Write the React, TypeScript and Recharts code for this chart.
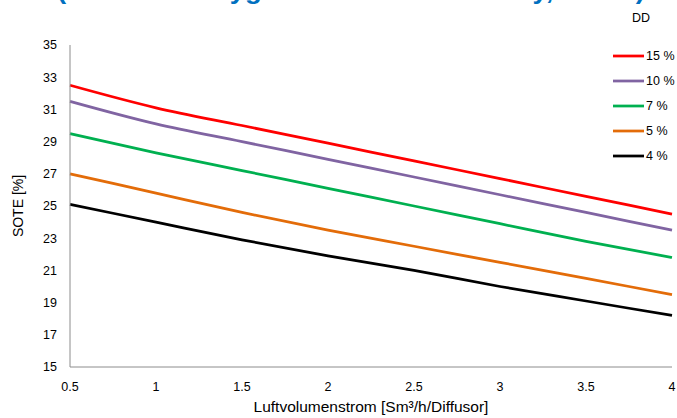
import React from 'react';
import { LineChart, Line, XAxis, YAxis, Legend } from 'recharts';

const airflow = [0.5, 1, 1.5, 2, 2.5, 3, 3.5, 4];
const dd15 = [32.5, 31.1, 30.0, 28.9, 27.8, 26.7, 25.6, 24.5];
const dd10 = [31.5, 30.1, 29.0, 27.9, 26.8, 25.7, 24.6, 23.5];
const dd7 = [29.5, 28.3, 27.2, 26.1, 25.0, 23.9, 22.8, 21.8];
const dd5 = [27.0, 25.8, 24.6, 23.5, 22.5, 21.5, 20.5, 19.5];
const dd4 = [25.1, 24.0, 22.9, 21.9, 21.0, 20.0, 19.1, 18.2];
const xTicks = [0.5, 1, 1.5, 2, 2.5, 3, 3.5, 4];
const yTicks = [15, 17, 19, 21, 23, 25, 27, 29, 31, 33, 35];

const seriesList = [
  { key: 'dd15', name: '15 %', values: dd15, color: '#FF0000' },
  { key: 'dd10', name: '10 %', values: dd10, color: '#8064A2' },
  { key: 'dd7', name: '7 %', values: dd7, color: '#00B050' },
  { key: 'dd5', name: '5 %', values: dd5, color: '#E36C09' },
  { key: 'dd4', name: '4 %', values: dd4, color: '#000000' },
];

const data = airflow.map((x, i) => {
  const row: Record<string, number> = { x };
  seriesList.forEach((s) => {
    row[s.key] = s.values[i];
  });
  return row;
});

const FONT = '"Liberation Sans", Arial, sans-serif';

const LegendContent = () => (
  <div style={{ fontFamily: FONT, fontSize: 12.5, color: '#000' }}>
    {seriesList.map((s) => (
      <div key={s.key} style={{ display: 'flex', alignItems: 'center', height: 25 }}>
        <svg width={32} height={6} style={{ display: 'block' }}>
          <line x1={0} y1={3} x2={31} y2={3} stroke={s.color} strokeWidth={2.75} />
        </svg>
        <span style={{ marginLeft: 1 }}>{s.name}</span>
      </div>
    ))}
  </div>
);

export default function App() {
  return (
    <div style={{ position: 'absolute', left: 0, top: 0, width: 677, height: 418, background: '#fff', overflow: 'hidden' }}>
      <svg width={677} height={30} style={{ position: 'absolute', left: 0, top: 0 }}>
        <text
          x={57}
          y={-1}
          fill="#0070C0"
          fontFamily={FONT}
          fontWeight="bold"
          fontSize={26}
          textLength={588}
          lengthAdjust="spacingAndGlyphs"
        >
          (Standard Oxygen Transfer Efficiency, SOTE)
        </text>
        <text x={641} y={22} fill="#000" fontFamily={FONT} fontSize={12.5} textAnchor="middle">
          DD
        </text>
      </svg>
      <LineChart
        width={677}
        height={418}
        data={data}
        margin={{ top: 45, right: 5, bottom: 0, left: 0 }}
        style={{ fontFamily: FONT }}
      >
        <XAxis
          dataKey="x"
          type="number"
          domain={[0.5, 4]}
          ticks={xTicks}
          tickLine={false}
          axisLine={{ stroke: '#8c8c8c' }}
          tick={{ fill: '#000', fontSize: 12.5, fontFamily: FONT }}
          tickMargin={9}
          height={51}
          interval={0}
          label={{ value: 'Luftvolumenstrom [Sm³/h/Diffusor]', position: 'insideBottom', offset: 6, fill: '#000', fontSize: 15.5, fontFamily: FONT }}
        />
        <YAxis
          type="number"
          domain={[15, 35]}
          ticks={yTicks}
          tickLine={false}
          axisLine={{ stroke: '#8c8c8c' }}
          tick={{ fill: '#000', fontSize: 12.5, fontFamily: FONT }}
          tickMargin={7}
          width={70}
          interval={0}
          label={{ value: 'SOTE [%]', angle: -90, position: 'insideLeft', offset: 18, fill: '#000', fontSize: 14, fontFamily: FONT, style: { textAnchor: 'middle' } }}
        />
        <Legend
          layout="vertical"
          align="center"
          verticalAlign="middle"
          content={<LegendContent />}
          wrapperStyle={{ position: 'absolute', left: 613, top: 43, width: 64, right: 'auto', bottom: 'auto' }}
        />
        {seriesList.map((s) => (
          <Line
            key={s.key}
            type="monotone"
            dataKey={s.key}
            name={s.name}
            stroke={s.color}
            strokeWidth={2.75}
            dot={false}
            activeDot={false}
            isAnimationActive={false}
          />
        ))}
      </LineChart>
    </div>
  );
}
